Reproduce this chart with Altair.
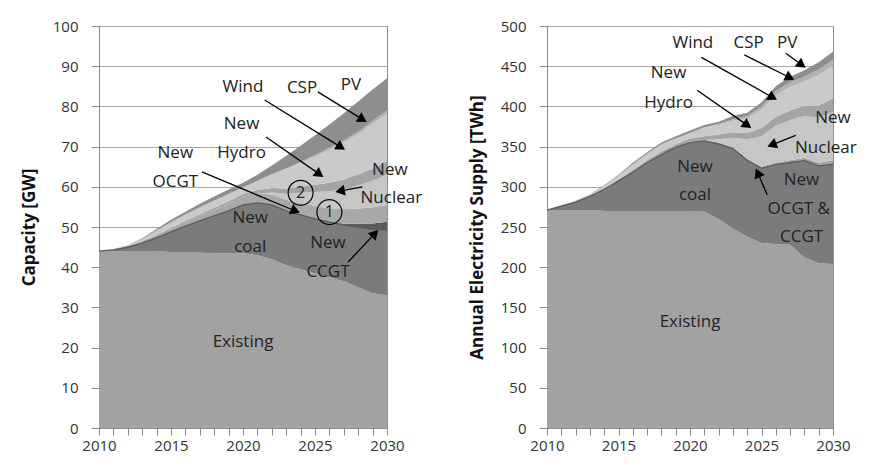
import math
import altair as alt
import pandas as pd

years = list(range(2010, 2031))

# ---------------- Left panel: installed capacity [GW] ----------------
cap_layers = ["Existing", "New coal", "New CCGT", "New OCGT", "New Nuclear",
              "New Hydro", "Wind", "CSP", "PV"]
cap_colors = ["#a2a2a2", "#7b7b7b", "#5a5a5a", "#a9a9a9", "#c6c6c6",
              "#a4a4a4", "#cacaca", "#b2b2b2", "#8e8e8e"]
cap_existing = [44, 44, 44, 44, 44, 43.8, 43.7, 43.6, 43.5, 43.5, 43.5, 43, 42, 40.5, 39.5, 38.5, 37.5, 36.5, 35, 33.5, 33]
cap_coal = [0, 0.3, 1, 2, 3.3, 5, 6.5, 7.9, 9.3, 10.5, 12, 13, 13.5, 13.5, 13.5, 13.5, 13.7, 14, 15, 16, 16.3]
cap_ccgt = [0, 0, 0, 0, 0, 0, 0, 0, 0, 0, 0, 0, 0, 0, 0, 0, 0, 0.3, 0.8, 1.4, 2.0]
cap_ocgt = [0, 0.1, 0.3, 0.5, 0.7, 0.9, 1.1, 1.3, 1.5, 1.8, 2.0, 2.3, 2.6, 2.8, 3.0, 3.2, 3.4, 3.6, 3.8, 4.0, 4.2]
cap_nuclear = [0, 0, 0, 0, 0, 0, 0, 0, 0, 0, 0, 0, 0.5, 1.5, 2.5, 3.5, 4.3, 5.0, 5.8, 6.6, 7.5]
cap_hydro = [0, 0, 0, 0, 0.1, 0.2, 0.3, 0.4, 0.5, 0.6, 0.7, 0.9, 1.1, 1.3, 1.5, 1.8, 2.1, 2.4, 2.7, 3.0, 3.5]
cap_wind = [0, 0.1, 0.2, 0.5, 1.0, 1.3, 1.5, 1.7, 1.8, 1.8, 1.7, 2.3, 3.3, 4.8, 5.9, 7.0, 8.2, 9.2, 10.0, 11.2, 11.7]
cap_csp = [0, 0, 0, 0, 0, 0, 0, 0, 0, 0, 0, 0, 0.1, 0.2, 0.3, 0.4, 0.5, 0.6, 0.6, 0.7, 0.8]
cap_pv = [0, 0, 0, 0.2, 0.4, 0.6, 0.7, 0.9, 1.0, 1.1, 1.1, 1.5, 2.2, 3.1, 4.0, 4.9, 5.8, 6.7, 7.5, 7.8, 8.0]
cap_series = [cap_existing, cap_coal, cap_ccgt, cap_ocgt, cap_nuclear,
              cap_hydro, cap_wind, cap_csp, cap_pv]

cap_labels = [("Wind", 2020.0, 84.8), ("CSP", 2024.1, 84.7), ("PV", 2027.5, 85.3),
              ("New", 2019.9, 75.6), ("Hydro", 2019.9, 68.5),
              ("New", 2015.3, 68.4), ("OCGT", 2015.3, 61.3),
              ("New", 2030.2, 64.2), ("Nuclear", 2030.3, 57.1),
              ("New", 2020.5, 52.2), ("coal", 2020.5, 45.0),
              ("New", 2025.9, 46.0), ("CCGT", 2025.9, 38.8),
              ("Existing", 2020.0, 21.4)]
cap_arrows = [(2017.15, 63.7, 2023.96, 53.5), (2021.6, 72.4, 2025.6, 62.4),
              (2021.5, 81.6, 2027.1, 69.2), (2025.2, 83.6, 2028.6, 76.1),
              (2028.3, 60.0, 2026.4, 58.7), (2027.3, 41.3, 2029.4, 49.3)]
cap_circles = [("2", 2024.0, 58.5), ("1", 2026.0, 53.7)]

# ---------------- Right panel: annual supply [TWh] ----------------
sup_layers = ["Existing", "New coal", "New OCGT & CCGT", "New Nuclear",
              "New Hydro", "Wind", "CSP", "PV"]
sup_colors = ["#a2a2a2", "#7b7b7b", "#555555", "#c6c6c6",
              "#a4a4a4", "#cacaca", "#b2b2b2", "#8e8e8e"]
sup_existing = [271, 271, 271, 271, 270, 270, 270, 270, 270, 270, 270, 269, 260, 248, 238, 230, 229, 228, 212, 205, 204]
sup_coal = [0, 5, 10, 17, 27, 37, 48, 60, 70, 79, 85, 88, 93.5, 99.5, 95, 93, 98.5, 102, 120.5, 121, 124]
sup_gas = [0, 0, 0, 0, 0, 0, 0, 0, 0, 0, 1, 1, 1.5, 1.5, 2, 2, 2.5, 3, 3.5, 4, 5]
sup_nuclear = [0, 0, 0, 0, 0, 0, 0, 0, 0, 0, 0, 0, 4, 12, 24, 38, 46, 50, 52, 56, 60]
sup_hydro = [0, 0, 0, 0, 1, 2, 3, 3, 4, 4, 4, 5, 6, 7, 8, 10, 11, 12, 13, 15, 17]
sup_wind = [0, 1, 2, 3, 3, 5, 7, 8, 9, 7, 7, 11, 12, 14, 18, 23, 27, 29, 30, 38, 40]
sup_csp = [0, 0, 0, 0, 0, 0, 0, 0, 0, 0, 0, 0, 1, 2, 3, 4, 5, 6, 6, 7, 8]
sup_pv = [0, 0, 0, 0, 1, 1, 2, 2, 2, 3, 3, 3, 3, 4, 4, 5, 6, 7, 8, 9, 10]
sup_series = [sup_existing, sup_coal, sup_gas, sup_nuclear, sup_hydro,
              sup_wind, sup_csp, sup_pv]

sup_labels = [("Wind", 2020.2, 478.5), ("CSP", 2024.1, 478.5), ("PV", 2026.8, 478.5),
              ("New", 2018.5, 441), ("Hydro", 2018.5, 404),
              ("New", 2030.0, 386), ("Nuclear", 2029.5, 348),
              ("New", 2020.35, 325), ("coal", 2020.35, 290),
              ("New", 2027.8, 308.5), ("OCGT &", 2027.6, 273), ("CCGT", 2027.8, 238),
              ("Existing", 2020.0, 132)]
sup_arrows = [(2026.7, 466, 2028.1, 448), (2023.8, 464, 2027.3, 433),
              (2020.8, 461, 2026.1, 408), (2020.5, 420, 2024.3, 373),
              (2027.4, 364, 2025.4, 350), (2025.4, 290, 2024.6, 323)]

FONT = "Open Sans"
W_L, W_R, H = 288, 286, 402


def long_table(layers, series):
    rows = []
    for i, (name, vals) in enumerate(zip(layers, series)):
        for yr, v in zip(years, vals):
            rows.append({"year": yr, "layer": name, "value": v, "idx": i})
    return pd.DataFrame(rows)


def panel(layers, colors, series, labels, arrows, circles, ymax, ystep, title, width):
    sx = width / 20.0
    sy = H / float(ymax)
    xs = alt.Scale(domain=[2010, 2030], nice=False, zero=False)
    ys = alt.Scale(domain=[0, ymax], nice=False)
    xaxis = alt.Axis(values=years, format="d", labelFlush=False,
                     labelExpr="datum.value % 5 == 0 ? datum.label : ''",
                     tickSize=7, grid=False, title=None, labelPadding=3)
    yaxis = alt.Axis(values=list(range(0, ymax + 1, ystep)), tickSize=8,
                     labelPadding=13, titlePadding=14, grid=True, title=title)

    def X(f):
        return alt.X(f, scale=xs, axis=xaxis)

    def Y(f, **kw):
        return alt.Y(f, scale=ys, axis=yaxis, **kw)

    df = long_table(layers, series)
    area = alt.Chart(df).mark_area(interpolate="linear").encode(
        x=X("year:Q"),
        y=Y("value:Q", stack="zero"),
        color=alt.Color("layer:N", scale=alt.Scale(domain=layers, range=colors), legend=None),
        order=alt.Order("idx:Q"),
    )

    coal_top = pd.DataFrame({"year": years,
                             "top": [a + b for a, b in zip(series[0], series[1])]})
    line = alt.Chart(coal_top).mark_line(color="#5a5a5a", strokeWidth=1.3).encode(
        x=X("year:Q"), y=Y("top:Q"))

    arr_rows, head_rows = [], []
    for (x1, y1, x2, y2) in arrows:
        dxp = (x2 - x1) * sx
        dyp = -(y2 - y1) * sy
        L = math.hypot(dxp, dyp)
        ux, uy = dxp / L, dyp / L
        ang = math.degrees(math.atan2(ux, -uy)) % 360
        back = 5.0
        hx = x2 - ux * back / sx
        hy = y2 + uy * back / sy
        arr_rows.append({"x": x1, "y": y1, "x2": x2 - ux * 7 / sx, "y2": y2 + uy * 7 / sy})
        head_rows.append({"x": hx, "y": hy, "ang": ang})
    rules = alt.Chart(pd.DataFrame(arr_rows)).mark_rule(color="black", strokeWidth=1.3).encode(
        x=X("x:Q"), y=Y("y:Q"), x2="x2:Q", y2="y2:Q")
    heads = alt.Chart(pd.DataFrame(head_rows)).mark_point(
        shape="triangle-up", filled=True, color="black", size=120, opacity=1).encode(
        x=X("x:Q"), y=Y("y:Q"), angle=alt.Angle("ang:Q", scale=None))

    lab_df = pd.DataFrame([{"t": t, "x": x, "y": y} for t, x, y in labels])
    texts = alt.Chart(lab_df).mark_text(font=FONT, fontSize=17, color="#222222",
                                        align="center", baseline="middle").encode(
        x=X("x:Q"), y=Y("y:Q"), text="t:N")

    layers_list = [area, line, rules, heads, texts]
    if circles:
        cdf = pd.DataFrame([{"t": t, "x": x, "y": y} for t, x, y in circles])
        ring = alt.Chart(cdf).mark_point(shape="circle", filled=False, color="black",
                                         size=620, strokeWidth=1.2, opacity=1).encode(
            x=X("x:Q"), y=Y("y:Q"))
        ctext = alt.Chart(cdf).mark_text(font=FONT, fontSize=16, color="#222222",
                                         align="center", baseline="middle").encode(
            x=X("x:Q"), y=Y("y:Q"), text="t:N")
        layers_list += [ring, ctext]

    return alt.layer(*layers_list).properties(width=width, height=H)


left = panel(cap_layers, cap_colors, cap_series, cap_labels, cap_arrows, cap_circles,
             100, 10, "Capacity [GW]", W_L)
right = panel(sup_layers, sup_colors, sup_series, sup_labels, sup_arrows, [],
              500, 50, "Annual Electricity Supply [TWh]", W_R)

chart = alt.hconcat(left, right, spacing=160, bounds="flush").properties(
    padding={"left": 11, "top": 10, "right": 5, "bottom": 5},
    background="white",
).configure_view(
    stroke="#8c8c8c", strokeWidth=1
).configure_axis(
    domainColor="#8c8c8c", tickColor="#8c8c8c", gridColor="#a6a6a6", gridWidth=1,
    labelColor="#333333", labelFont=FONT, labelFontSize=15,
    titleFont=FONT, titleFontSize=17, titleFontWeight="bold", titleColor="#111111",
)

chart.save("out.html", embed_options={"renderer": "svg", "actions": False})
